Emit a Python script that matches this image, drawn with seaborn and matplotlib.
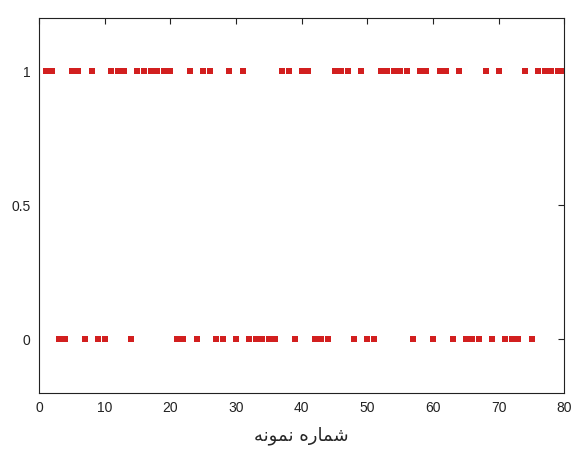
import matplotlib
matplotlib.use("Agg")
import matplotlib.pyplot as plt
import seaborn as sns
import pandas as pd

# sample indices whose value is 1 (all others in 1..80 are 0)
ones = [1, 2, 5, 6, 8, 11, 12, 13, 15, 16, 17, 18, 19, 20, 23, 25, 26, 29, 31,
        37, 38, 40, 41, 45, 46, 47, 49, 52, 53, 54, 55, 56, 58, 59, 61, 62, 64,
        68, 70, 74, 76, 77, 78, 79, 80]
samples = list(range(1, 81))
values = [1 if s in ones else 0 for s in samples]
xticks = [0, 10, 20, 30, 40, 50, 60, 70, 80]
yticks = [0, 0.5, 1]
yticklabels = ["0", "0.5", "1"]

# "شماره نمونه" in shaped presentation forms, visual order
xlabel_text = "\uFEEA\uFEE7\uFEEE\uFEE4\uFEE7 \uFEE9\uFEAD\uFE8E\uFEE4\uFEB7"

df = pd.DataFrame({"sample": samples, "value": values})

sns.set_style("white")
plt.rcParams["font.family"] = ["Liberation Sans", "DejaVu Sans"]

fig = plt.figure(figsize=(5.73, 4.69), dpi=100)
ax = fig.add_axes([0.068, 0.162, 0.917, 0.8])

sns.scatterplot(data=df, x="sample", y="value", marker="s", s=22,
                color="#d21f1f", linewidth=0, ax=ax)

ax.set_xlim(0, 80)
ax.set_ylim(-0.2, 1.2)
ax.set_xticks(xticks)
ax.set_yticks(yticks)
ax.set_yticklabels(yticklabels)
ax.tick_params(direction="in", length=4, width=0.8, labelsize=10,
               top=True, right=True, colors="#222222", pad=6)
for sp in ax.spines.values():
    sp.set_color("#222222")
    sp.set_linewidth(0.8)
ax.set_ylabel("")
ax.set_xlabel(xlabel_text, family=["DejaVu Sans"], fontsize=13, labelpad=8)

fig.savefig("out.png", dpi=100)
